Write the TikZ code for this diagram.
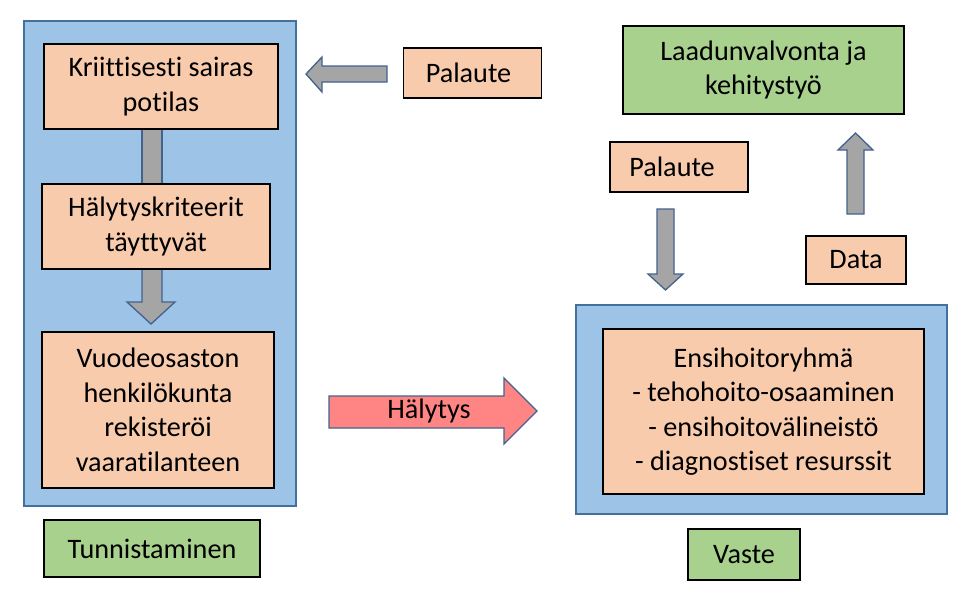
\documentclass[tikz,border=0pt]{standalone}
\usepackage{fontspec}
\setmainfont{Carlito}[Ligatures={NoCommon}]
\definecolor{peachc}{HTML}{F8CBAD}
\definecolor{greenc}{HTML}{A9D18E}
\definecolor{panelc}{HTML}{9DC3E6}
\definecolor{panelline}{HTML}{41719C}
\definecolor{arrgray}{HTML}{A5A5A5}
\definecolor{arrline}{HTML}{44628E}
\definecolor{redc}{HTML}{FF8585}
\begin{document}
\begin{tikzpicture}[x=1pt,y=-1pt,
  lbl/.style={font=\fontsize{28.2}{34.5}\selectfont, align=center, inner sep=0pt, draw=black, line width=1.4pt},
  peach/.style={lbl, fill=peachc},
  greenbox/.style={lbl, fill=greenc},
  panel/.style={draw=panelline, fill=panelc, line width=1.5pt, inner sep=0pt},
  grayarrow/.style={draw=arrline, fill=arrgray, line width=1.3pt, line join=miter},
  redarrow/.style={draw=arrline, fill=redc, line width=1.3pt, line join=miter},
  plain/.style={font=\fontsize{28.2}{34.5}\selectfont, inner sep=0pt}
]
\useasboundingbox[fill=white] (0,0) rectangle (965,608);

% panels
\node[panel, minimum width=272pt, minimum height=485pt] (tunpanel) at (160,263.5) {};
\node[panel, minimum width=371pt, minimum height=209pt] (vastepanel) at (761.5,409.5) {};

% arrows inside left panel
\draw[grayarrow] (142,129) rectangle (162,190);
\draw[grayarrow] (142,269) -- (142,302) -- (127,302) -- (151,324) -- (175,302) -- (162,302) -- (162,269);

% boxes
\node[peach, minimum width=234pt, minimum height=85pt] (b1) at (161,86.5) {Kriittisesti sairas\\potilas};
\node[peach, minimum width=228pt, minimum height=85pt] (b2) at (156,226.5) {Hälytyskriteerit\\täyttyvät};
\node[peach, minimum width=232pt, minimum height=156pt] (b3) at (158,410) {Vuodeosaston\\henkilökunta\\rekisteröi\\vaaratilanteen};
\node[greenbox, minimum width=216pt, minimum height=57pt] (tun) at (152,548.5) {Tunnistaminen};

\node[peach, minimum width=138pt, minimum height=50pt] (pal1) at (472.5,73) {\hspace*{-8pt}Palaute};
\node[greenbox, minimum width=281pt, minimum height=88pt] (laatu) at (763.5,70) {Laadunvalvonta ja\\kehitystyö};
\node[peach, minimum width=138pt, minimum height=50pt] (pal2) at (679,167) {\hspace*{-14pt}Palaute};
\node[peach, minimum width=100pt, minimum height=48pt] (data) at (856,260) {Data};
\node[peach, minimum width=321pt, minimum height=165pt] (ensi) at (763.5,411.5) {Ensihoitoryhmä\\- tehohoito-osaaminen\\- ensihoitovälineistö\\- diagnostiset resurssit};
\node[greenbox, minimum width=112pt, minimum height=51pt] (vaste) at (744,554.5) {Vaste};

% block arrows
\draw[grayarrow] (387,66) -- (322,66) -- (322,57) -- (306,74) -- (322,92) -- (322,82) -- (387,82) -- cycle;
\draw[grayarrow] (657,209) -- (674,209) -- (674,274) -- (683,274) -- (665.5,290) -- (648,274) -- (657,274) -- cycle;
\draw[grayarrow] (847,214) -- (864,214) -- (864,150) -- (873,150) -- (855.5,133) -- (838,150) -- (847,150) -- cycle;
\draw[redarrow] (329,396) -- (504,396) -- (504,378) -- (537,411) -- (504,444) -- (504,428) -- (329,428) -- cycle;
\node[plain] (hal) at (429,411) {Hälytys};
\end{tikzpicture}
\end{document}
